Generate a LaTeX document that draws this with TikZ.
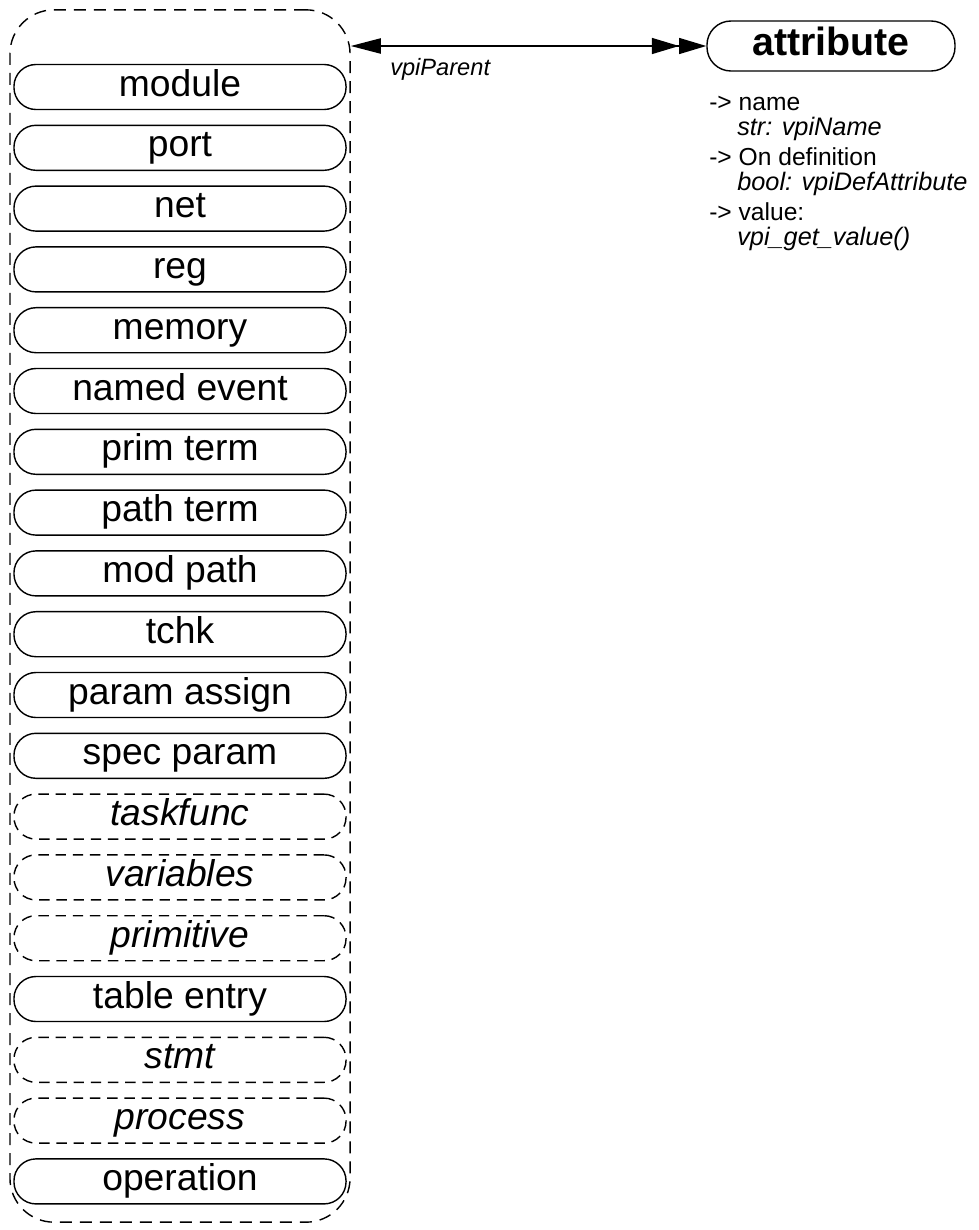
\documentclass[tikz,border=0pt]{standalone}
\usepackage{fontspec}
\setmainfont{Liberation Sans}
\usetikzlibrary{arrows.meta,positioning}

\tikzset{
  objbox/.style={draw, line width=1pt, rounded corners=0.55cm,
    minimum width=8.3cm, minimum height=1.125cm, inner sep=0pt,
    text height=19pt, text depth=6pt,
    font=\fontsize{26.5}{30}\selectfont},
  classbox/.style={objbox, dash pattern=on 0.26cm off 0.17cm,
    font=\fontsize{26.5}{30}\selectfont\itshape},
  groupbox/.style={draw, line width=1pt, rounded corners=1.1cm,
    dash pattern=on 0.3cm off 0.2cm, minimum width=8.5cm, minimum height=30.3cm},
  proptext/.style={anchor=base west, inner sep=0pt, font=\fontsize{17.5}{20}\selectfont},
  propval/.style={anchor=base west, inner sep=0pt, font=\fontsize{18}{20}\selectfont\itshape}
}

\begin{document}
\begin{tikzpicture}[x=0.025cm, y=-0.025cm]
  \useasboundingbox (0,0) rectangle (979,1230);
  % the container of all objects that may own an attribute
  \node[groupbox] (grp) at (180,616) {};
  \foreach \lbl/\sty [count=\i from 0] in {module/objbox, port/objbox, net/objbox,
      reg/objbox, memory/objbox, named event/objbox, prim term/objbox,
      path term/objbox, mod path/objbox, tchk/objbox, param assign/objbox,
      spec param/objbox, taskfunc/classbox, variables/classbox, primitive/classbox,
      table entry/objbox, stmt/classbox, process/classbox, operation/objbox} {
    \node[\sty] (obj\i) at (180,{87+\i*60.8}) {\lbl};
  }
  % the attribute object
  \node[objbox, minimum width=6.2cm, minimum height=1.25cm, rounded corners=0.6cm,
    text height=21pt, text depth=7pt,
    font=\fontsize{28}{32}\selectfont\bfseries] (attr) at (831,46) {attribute};
  \draw[line width=1pt, {Triangle[length=0.75cm,width=0.38cm]}-{Triangle[length=0.68cm,width=0.4cm]Triangle[length=0.68cm,width=0.4cm]}]
    (attr.west -| grp.east) -- (attr.west);
  \node[anchor=base west, inner sep=0pt, font=\fontsize{16.8}{19}\selectfont\itshape]
    (par) at (390,75) {vpiParent};
  % properties
  \node[proptext] (p1) at (709,110) {-> name};
  \node[propval] (v1) at (737,135) {str: vpiName};
  \node[proptext] (p2) at (709,165) {-> On definition};
  \node[propval] (v2) at (737,190) {bool: vpiDefAttribute};
  \node[proptext] (p3) at (709,220) {-> value:};
  \node[propval] (v3) at (737,245) {vpi\_get\_value()};
\end{tikzpicture}
\end{document}
